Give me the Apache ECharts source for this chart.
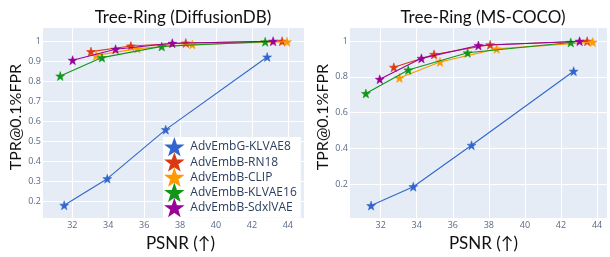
<!DOCTYPE html>
<html>
<head>
<meta charset="utf-8">
<script src="https://cdn.jsdelivr.net/npm/echarts@6/dist/echarts.min.js"></script>
<style>
  html, body { margin: 0; padding: 0; background: #fff; }
  #chart { width: 610px; height: 257px; }
</style>
</head>
<body>
<div id="chart"></div>
<script>
// Tree-Ring: TPR@0.1%FPR vs PSNR, two datasets side by side.
const seriesNames = ['AdvEmbG-KLVAE8', 'AdvEmbB-RN18', 'AdvEmbB-CLIP', 'AdvEmbB-KLVAE16', 'AdvEmbB-SdxlVAE'];
const seriesColors = ['#3366CC', '#DC3912', '#FF9900', '#109618', '#990099'];
const panelTitles = ['Tree-Ring (DiffusionDB)', 'Tree-Ring (MS-COCO)'];

// DiffusionDB (left)
const ddbKlvae8X  = [31.55, 33.95, 37.2, 42.85];
const ddbKlvae8Y  = [0.18, 0.313, 0.558, 0.921];
const ddbRn18X    = [33.04, 35.26, 38.32, 43.68];
const ddbRn18Y    = [0.948, 0.976, 0.991, 1.0];
const ddbClipX    = [33.33, 35.63, 38.68, 43.96];
const ddbClipY    = [0.929, 0.963, 0.984, 0.997];
const ddbKlvae16X = [31.33, 33.65, 36.98, 42.74];
const ddbKlvae16Y = [0.826, 0.918, 0.974, 0.997];
const ddbSdxlX    = [32.02, 34.41, 37.57, 43.18];
const ddbSdxlY    = [0.905, 0.96, 0.99, 1.0];

// MS-COCO (right)
const cocoKlvae8X  = [31.47, 33.81, 37.04, 42.7];
const cocoKlvae8Y  = [0.079, 0.185, 0.417, 0.832];
const cocoRn18X    = [32.73, 34.96, 38.07, 43.45];
const cocoRn18Y    = [0.854, 0.926, 0.98, 1.0];
const cocoClipX    = [33.04, 35.29, 38.43, 43.76];
const cocoClipY    = [0.794, 0.884, 0.957, 0.995];
const cocoKlvae16X = [31.18, 33.53, 36.82, 42.54];
const cocoKlvae16Y = [0.707, 0.839, 0.935, 0.993];
const cocoSdxlX    = [31.95, 34.26, 37.42, 43.03];
const cocoSdxlY    = [0.787, 0.904, 0.976, 1.0];

const ddbX = [ddbKlvae8X, ddbRn18X, ddbClipX, ddbKlvae16X, ddbSdxlX];
const ddbY = [ddbKlvae8Y, ddbRn18Y, ddbClipY, ddbKlvae16Y, ddbSdxlY];
const cocoX = [cocoKlvae8X, cocoRn18X, cocoClipX, cocoKlvae16X, cocoSdxlX];
const cocoY = [cocoKlvae8Y, cocoRn18Y, cocoClipY, cocoKlvae16Y, cocoSdxlY];

// axis ranges
const xRanges = [[30.37, 44.9], [30.3, 44.55]];
const yRanges = [[0.116, 1.066], [0.009, 1.074]];
const yStep = [0.1, 0.2];

const STAR = 'path://M0,-10L2.35,-3.24L9.51,-3.09L3.8,1.24L5.88,8.09L0,4.2L-5.88,8.09L-3.8,1.24L-9.51,-3.09L-2.35,-3.24Z';
const TICK = '#5a6a85';
const FONT = 'Lato, "DejaVu Sans", sans-serif';

const onStep = (v, step) => Math.abs(v / step - Math.round(v / step)) < 1e-6;
const zip = (xs, ys) => xs.map((x, i) => [x, ys[i]]);

const grids = [
  { left: 43, top: 28, width: 261, height: 196 },
  { left: 350, top: 28, width: 259, height: 196 },
];

const xAxes = [0, 1].map((g) => ({
  type: 'value',
  gridIndex: g,
  min: xRanges[g][0],
  max: xRanges[g][1],
  splitNumber: 7,
  minInterval: 2,
  maxInterval: 2,
  name: 'PSNR (↑)',
  nameLocation: 'middle',
  nameGap: 14,
  nameTextStyle: { fontSize: 17, color: '#111', fontFamily: FONT, padding: [0, 0, 0, g === 0 ? 14 : 10] },
  axisLine: { show: false },
  axisTick: { show: false },
  axisLabel: {
    fontSize: 9, color: TICK, margin: 3, fontFamily: '"Open Sans", sans-serif',
    formatter: (v) => (onStep(v, 2) ? String(Math.round(v)) : ''),
  },
  splitLine: { show: true, showMinLine: false, showMaxLine: false, lineStyle: { color: '#fff', width: 1 } },
}));

const yAxes = [0, 1].map((g) => ({
  type: 'value',
  gridIndex: g,
  min: yRanges[g][0],
  max: yRanges[g][1],
  splitNumber: g === 0 ? 10 : 5,
  minInterval: yStep[g],
  maxInterval: yStep[g],
  name: 'TPR@0.1%FPR',
  nameLocation: 'middle',
  nameGap: 19,
  nameTextStyle: { fontSize: 16, color: '#111', fontFamily: FONT, padding: [0, 0, 0, 12] },
  axisLine: { show: false },
  axisTick: { show: false },
  axisLabel: {
    fontSize: 9, color: TICK, margin: 2, fontFamily: '"Open Sans", sans-serif',
    formatter: (v) => (onStep(v, yStep[g]) ? String(+v.toFixed(1)) : ''),
  },
  splitLine: { show: true, showMinLine: false, showMaxLine: false, lineStyle: { color: '#fff', width: 1 } },
}));

function makeSeries(g, xs, ys) {
  return seriesNames.map((name, i) => ({
    name,
    type: 'line',
    xAxisIndex: g,
    yAxisIndex: g,
    data: zip(xs[i], ys[i]),
    symbol: STAR,
    symbolSize: 9,
    lineStyle: { width: 1.1, color: seriesColors[i] },
    itemStyle: { color: seriesColors[i], borderColor: seriesColors[i], borderWidth: 0.5 },
    emphasis: { disabled: true },
    z: 2 + i,
  }));
}

const option = {
  animation: false,
  backgroundColor: '#fff',
  title: [
    { text: panelTitles[0], left: 178, top: 4, textAlign: 'center',
      textStyle: { fontSize: 17, fontWeight: 'normal', color: '#111', fontFamily: FONT } },
    { text: panelTitles[1], left: 478, top: 4, textAlign: 'center',
      textStyle: { fontSize: 17, fontWeight: 'normal', color: '#111', fontFamily: FONT } },
  ],
  legend: {
    data: seriesNames.map((n) => ({ name: n, icon: STAR })),
    orient: 'vertical',
    left: 163,
    top: 137,
    itemWidth: 22,
    itemHeight: 14,
    itemGap: -0.8,
    padding: [2, 4, 2, 3],
    backgroundColor: '#fff',
    textStyle: { fontSize: 12, lineHeight: 14, color: '#2a3f5f', fontFamily: '"Open Sans", sans-serif' },
  },
  grid: grids.map((g) => ({ ...g, backgroundColor: '#E5ECF6', show: true, borderWidth: 0 })),
  xAxis: xAxes,
  yAxis: yAxes,
  series: [...makeSeries(0, ddbX, ddbY), ...makeSeries(1, cocoX, cocoY)],
};

const chart = echarts.init(document.getElementById('chart'));
chart.setOption(option);
</script>
</body>
</html>
